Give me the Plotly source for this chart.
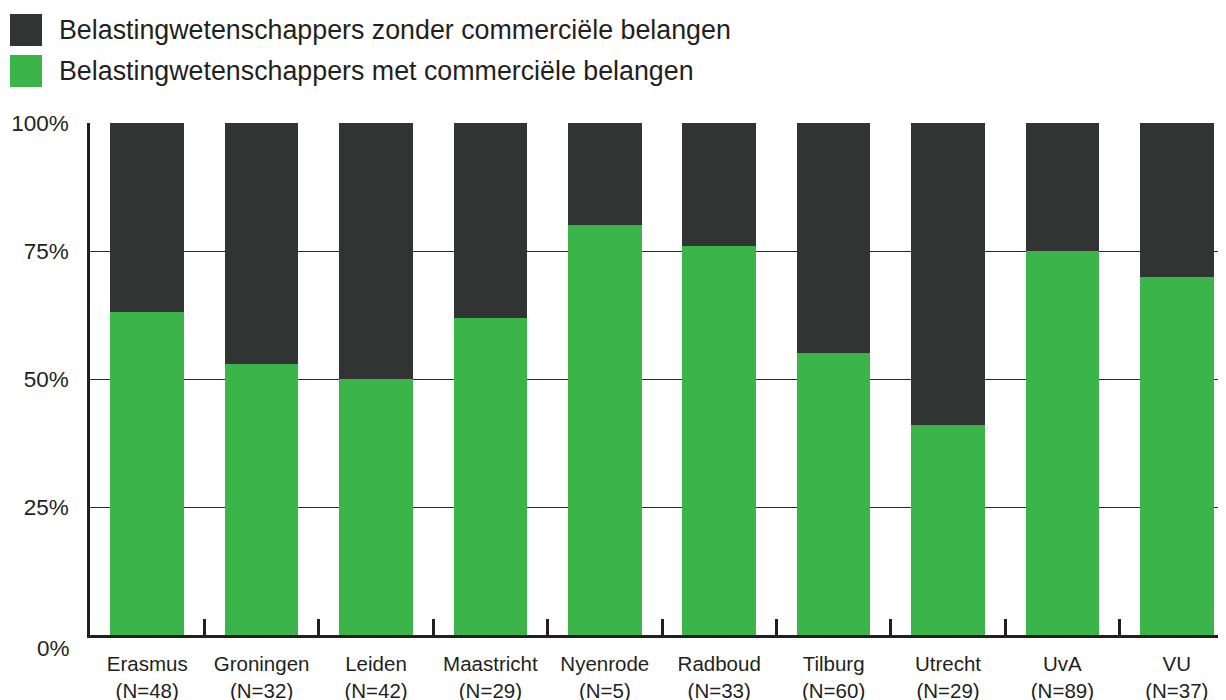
import plotly.graph_objects as go

universities = ["Erasmus", "Groningen", "Leiden", "Maastricht", "Nyenrode",
                "Radboud", "Tilburg", "Utrecht", "UvA", "VU"]
n_counts = [48, 32, 42, 29, 5, 33, 60, 29, 89, 37]
met_commercial = [63, 53, 50, 62, 80, 76, 55, 41, 75, 70]
zonder_commercial = [100 - v for v in met_commercial]
y_tick_values = [25, 50, 75, 100]
y_tick_labels = ["25%", "50%", "75%", "100%"]

name_zonder = "Belastingwetenschappers zonder commerciële belangen"
name_met = "Belastingwetenschappers met commerciële belangen"

DARK = "#323333"
GREEN = "#3bb44a"
TEXT = "#231f20"
FONT = "Liberation Sans, Arial, Helvetica, sans-serif"

W, H = 1226, 700
ML, MR, MT, MB = 82, 0, 115, 73
PW, PH = W - ML - MR, H - MT - MB
OFF = 8  # page body margin

def px_x(x):
    return (x - OFF - ML) / PW

def px_y(y):
    return (H - MB - (y - OFF)) / PH

xs = list(range(len(universities)))
ticktext = [f"{u}<br>(N={n})" for u, n in zip(universities, n_counts)]

fig = go.Figure()
fig.add_trace(go.Bar(x=xs, y=met_commercial, name=name_met, marker_color=GREEN,
                     marker_line_width=0, width=0.645, showlegend=False))
fig.add_trace(go.Bar(x=xs, y=zonder_commercial, name=name_zonder, marker_color=DARK,
                     marker_line_width=0, width=0.645, showlegend=False))

fig.update_layout(
    width=W, height=H, barmode="stack",
    margin=dict(l=ML, r=MR, t=MT, b=MB),
    paper_bgcolor="white", plot_bgcolor="white",
    font=dict(family=FONT, color=TEXT),
    xaxis=dict(range=[-0.5, 9.5], tickmode="array", tickvals=xs,
               ticktext=ticktext, ticks="", showgrid=False, zeroline=False,
               showline=True, linewidth=2.5, linecolor=TEXT, ticklabelstandoff=9,
               tickfont=dict(size=20.5, color=TEXT, family=FONT),
               minor=dict(tickvals=[i + 0.5 for i in xs], ticks="inside",
                          ticklen=16, tickwidth=2.5, tickcolor=TEXT, showgrid=False)),
    yaxis=dict(range=[0, 100], tickmode="array", tickvals=y_tick_values,
               ticktext=y_tick_labels, ticks="", showgrid=True, gridcolor="#2a2a2a",
               gridwidth=1, zeroline=False, showline=True, linewidth=2.5,
               linecolor=TEXT, ticklabelstandoff=14,
               tickfont=dict(size=22.5, color=TEXT, family=FONT)),
)

# 0% label sits a little below the baseline in the original
fig.add_annotation(x=px_x(72), y=0, xref="paper", yref="y", text="0%",
                   showarrow=False, xanchor="right", yanchor="middle", yshift=-13,
                   font=dict(size=22.5, color=TEXT, family=FONT))

# custom legend with large square swatches
legend_items = [(name_zonder, DARK, 14), (name_met, GREEN, 55)]
for name, color, top in legend_items:
    fig.add_shape(type="rect", xref="paper", yref="paper",
                  x0=px_x(10), x1=px_x(42), y0=px_y(top + 32), y1=px_y(top),
                  fillcolor=color, line_width=0)
    fig.add_annotation(x=px_x(57), y=px_y(top + 16), xref="paper", yref="paper",
                       text=name, showarrow=False, xanchor="left", yanchor="middle",
                       font=dict(size=26.8, color=TEXT, family=FONT))

fig.write_html("out.html")
